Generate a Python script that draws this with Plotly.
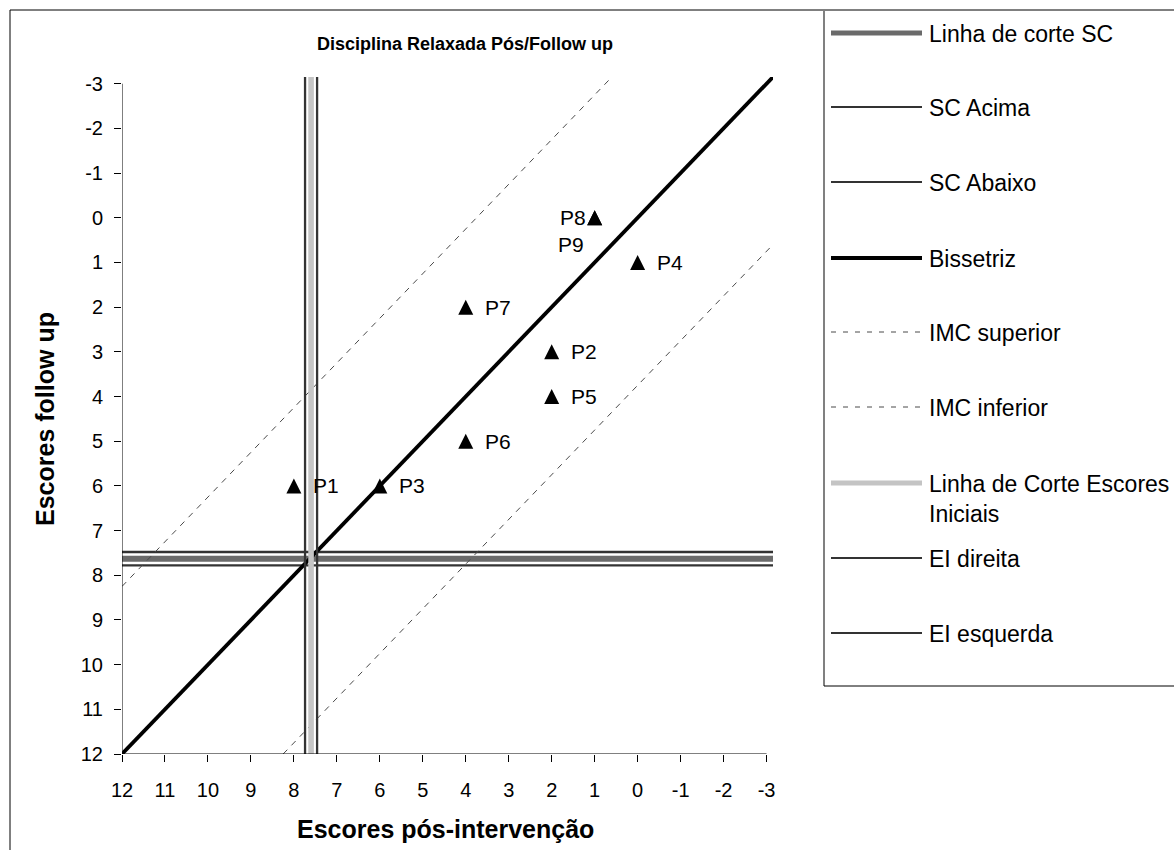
import plotly.graph_objects as go

# Participants: post-intervention score (x) against follow-up score (y)
participants = ["P1", "P2", "P3", "P4", "P5", "P6", "P7", "P8", "P9"]
pos_intervencao = [8, 2, 6, 0, 2, 4, 4, 1, 1]
follow_up = [6, 3, 6, 1, 4, 5, 2, 0, 0]

# Reference lines
bissetriz_x = [12, -3.15]
bissetriz_y = [12, -3.15]
imc_superior_x = [12, 0.6]
imc_superior_y = [8.25, -3.15]
imc_inferior_x = [8.25, -3.15]
imc_inferior_y = [12, 0.6]

corte_sc = 7.63      # clinical significance cut-off (follow-up)
sc_acima = 7.48
sc_abaixo = 7.78
corte_ei = 7.60      # cut-off of the initial scores (post-intervention)
ei_direita = 7.46
ei_esquerda = 7.74

axis_min, axis_max = 12, -3.15
tick_vals = [12, 11, 10, 9, 8, 7, 6, 5, 4, 3, 2, 1, 0, -1, -2, -3]
tick_text = ["12", "11", "10", "9", "8", "7", "6", "5", "4", "3", "2", "1", "0", "-1", "-2", "-3"]

FONT = "Liberation Sans, Arial, sans-serif"
DARK = "#333333"
BAND_SC = "#6a6a6a"
BAND_EI = "#c4c4c4"
DASH_C = "#4a4a4a"

# page geometry (pixels)
FIG_W, FIG_H = 1174, 850
L, R, T, B = 122, 401, 77, 96
W = FIG_W - L - R
H = FIG_H - T - B


def px(x):
    return (x - L) / W


def py(y):
    return 1 - (y - T) / H


fig = go.Figure()

# horizontal cut-off (SC) with its bounds
fig.add_trace(go.Scatter(x=[axis_min, axis_max], y=[sc_acima, sc_acima], mode="lines",
                         line=dict(color=DARK, width=2.3), name="SC Acima"))
fig.add_trace(go.Scatter(x=[axis_min, axis_max], y=[sc_abaixo, sc_abaixo], mode="lines",
                         line=dict(color=DARK, width=2.3), name="SC Abaixo"))
fig.add_trace(go.Scatter(x=[axis_min, axis_max], y=[corte_sc, corte_sc], mode="lines",
                         line=dict(color=BAND_SC, width=6), name="Linha de corte SC"))

# bisector and reliable-change limits
fig.add_trace(go.Scatter(x=bissetriz_x, y=bissetriz_y, mode="lines",
                         line=dict(color="black", width=3.8), name="Bissetriz"))
fig.add_trace(go.Scatter(x=imc_superior_x, y=imc_superior_y, mode="lines",
                         line=dict(color=DASH_C, width=1, dash="6px,6px"), name="IMC superior"))
fig.add_trace(go.Scatter(x=imc_inferior_x, y=imc_inferior_y, mode="lines",
                         line=dict(color=DASH_C, width=1, dash="6px,6px"), name="IMC inferior"))

# vertical cut-off (initial scores) with its bounds
fig.add_trace(go.Scatter(x=[corte_ei, corte_ei], y=[axis_min, axis_max], mode="lines",
                         line=dict(color=BAND_EI, width=5.6), name="Linha de Corte Escores Iniciais"))
fig.add_trace(go.Scatter(x=[ei_direita, ei_direita], y=[axis_min, axis_max], mode="lines",
                         line=dict(color=DARK, width=2.3), name="EI direita"))
fig.add_trace(go.Scatter(x=[ei_esquerda, ei_esquerda], y=[axis_min, axis_max], mode="lines",
                         line=dict(color=DARK, width=2.3), name="EI esquerda"))

# participants (upward triangles centred on each point)
fig.add_trace(go.Scatter(
    x=pos_intervencao, y=follow_up, mode="markers", name="Participantes",
    marker=dict(symbol="arrow-down", angle=180, standoff=7.5, size=15, color="black",
                line=dict(width=0)),
))

annotations = []

# point labels
label_style = {"P8": dict(xanchor="right", xshift=-7, yshift=0),
               "P9": dict(xanchor="right", xshift=-9, yshift=-27)}
for name, xv, yv in zip(participants, pos_intervencao, follow_up):
    st = label_style.get(name, dict(xanchor="left", xshift=17, yshift=0))
    annotations.append(dict(x=xv, y=yv, xref="x", yref="y", text=name, showarrow=False,
                            xanchor=st["xanchor"], yanchor="middle",
                            xshift=st["xshift"], yshift=st["yshift"],
                            font=dict(family=FONT, size=21, color="black")))

# titles
annotations.append(dict(x=px(465), y=py(44), xref="paper", yref="paper",
                        text="<b>Disciplina Relaxada Pós/Follow up</b>", showarrow=False,
                        xanchor="center", yanchor="middle",
                        font=dict(family=FONT, size=18, color="black")))
annotations.append(dict(x=px(445), y=py(829), xref="paper", yref="paper",
                        text="<b>Escores pós-intervenção</b>", showarrow=False,
                        xanchor="center", yanchor="middle",
                        font=dict(family=FONT, size=25, color="black")))
annotations.append(dict(x=px(45), y=py(419), xref="paper", yref="paper",
                        text="<b>Escores follow up</b>", showarrow=False, textangle=-90,
                        xanchor="center", yanchor="middle",
                        font=dict(family=FONT, size=25, color="black")))

shapes = []

# axis lines (from 12 to -3 on each axis)
shapes.append(dict(type="line", xref="x", yref="y", x0=12, y0=12, x1=-3, y1=12,
                   line=dict(color="black", width=1)))
shapes.append(dict(type="line", xref="x", yref="y", x0=12, y0=12, x1=12, y1=-3,
                   line=dict(color="black", width=1)))

# chart frame and legend box
shapes.append(dict(type="rect", xref="paper", yref="paper",
                   x0=px(10), y0=py(10), x1=px(1190), y1=py(870),
                   line=dict(color="black", width=1)))
shapes.append(dict(type="line", xref="paper", yref="paper",
                   x0=px(824), y0=py(10), x1=px(824), y1=py(686),
                   line=dict(color="#808080", width=2)))
shapes.append(dict(type="line", xref="paper", yref="paper",
                   x0=px(824), y0=py(686), x1=px(1190), y1=py(686),
                   line=dict(color="black", width=1)))

# legend entries: (label, centre y of first line, line style)
legend_items = [
    ("Linha de corte SC", 33, dict(color=BAND_SC, width=5)),
    ("SC Acima", 107, dict(color=DARK, width=2)),
    ("SC Abaixo", 182, dict(color=DARK, width=2)),
    ("Bissetriz", 258, dict(color="black", width=4)),
    ("IMC superior", 332, dict(color=DASH_C, width=1, dash="5px,7px")),
    ("IMC inferior", 407, dict(color=DASH_C, width=1, dash="5px,7px")),
    ("Linha de Corte Escores<br>Iniciais", 483, dict(color=BAND_EI, width=5)),
    ("EI direita", 558, dict(color=DARK, width=2)),
    ("EI esquerda", 633, dict(color=DARK, width=2)),
]
for text, yc, style in legend_items:
    shapes.append(dict(type="line", xref="paper", yref="paper",
                       x0=px(831), y0=py(yc), x1=px(922), y1=py(yc), line=style))
    annotations.append(dict(x=px(927), y=py(yc - 14), xref="paper", yref="paper",
                            text=text, showarrow=False, align="left",
                            xanchor="left", yanchor="top",
                            font=dict(family=FONT, size=23, color="black")))

axis_common = dict(
    range=[axis_min, axis_max], tickmode="array", tickvals=tick_vals, ticktext=tick_text,
    ticks="outside", ticklen=7, tickwidth=1, tickcolor="black",
    tickfont=dict(family=FONT, size=20, color="black"),
    showgrid=False, zeroline=False, showline=False,
)

fig.update_layout(
    width=FIG_W, height=FIG_H,
    margin=dict(l=L, r=R, t=T, b=B, pad=0),
    paper_bgcolor="white", plot_bgcolor="white",
    showlegend=False,
    xaxis=dict(**axis_common, ticklabelstandoff=11),
    yaxis=dict(**axis_common, ticklabelstandoff=7),
    annotations=annotations,
    shapes=shapes,
)

fig.write_html("out.html")
